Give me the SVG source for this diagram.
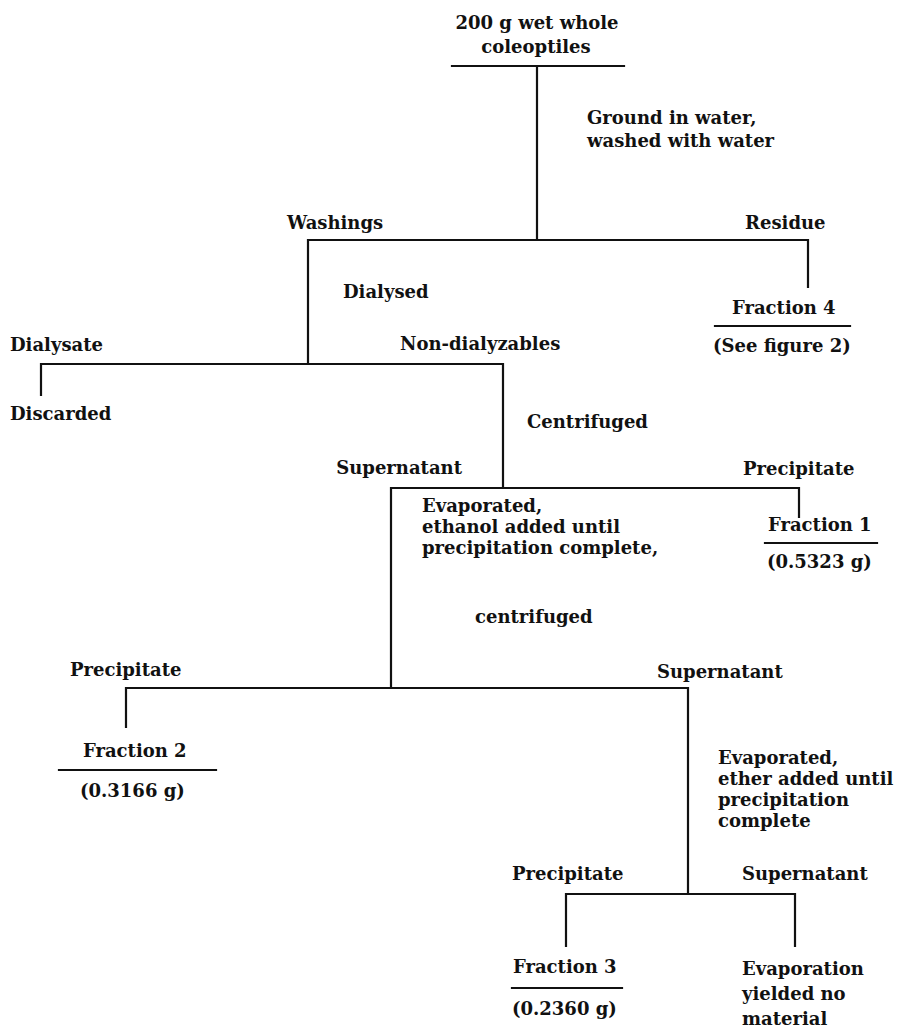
<svg xmlns="http://www.w3.org/2000/svg" width="897" height="1029" viewBox="0 0 897 1029">
<style>
.t{font-family:"DejaVu Serif","Liberation Serif",serif;font-size:18px;font-weight:bold;fill:#111}
.m{text-anchor:middle}
.e{text-anchor:end}
.ln{stroke:#111;stroke-width:2.2;fill:none;stroke-linecap:square}
</style>
<rect width="897" height="1029" fill="#fff"/>
<g id="connectors" class="ln">
<path d="M537 66V240M308 240H808M308 240V364M808 240V287"/>
<path d="M41 364H503M41 364V395M503 364V488"/>
<path d="M391 488H799M799 488V517M391 488V688"/>
<path d="M126 688H688M126 688V727M688 688V894"/>
<path d="M566 894H795M566 894V946M795 894V946"/>
</g>
<g id="start">
<text class="t m" x="537" y="29">200 g wet whole</text>
<text class="t m" x="536" y="53">coleoptiles</text>
<path class="ln" d="M452 66H624"/>
</g>
<g id="step-ground">
<text class="t" x="587" y="124">Ground in water,</text>
<text class="t" x="587" y="147">washed with water</text>
</g>
<g id="washings"><text class="t" x="287" y="229">Washings</text></g>
<g id="residue"><text class="t" x="745" y="229">Residue</text></g>
<g id="step-dialysed"><text class="t" x="343" y="298">Dialysed</text></g>
<g id="fraction4">
<text class="t" x="732" y="314">Fraction 4</text>
<path class="ln" d="M715 326H850"/>
<text class="t" x="713" y="352">(See figure 2)</text>
</g>
<g id="dialysate"><text class="t" x="10" y="351">Dialysate</text></g>
<g id="nondialyzables"><text class="t" x="400" y="350">Non-dialyzables</text></g>
<g id="discarded"><text class="t" x="10" y="420">Discarded</text></g>
<g id="step-centrifuged"><text class="t" x="527" y="428">Centrifuged</text></g>
<g id="supernatant1"><text class="t e" x="462" y="474">Supernatant</text></g>
<g id="precipitate1"><text class="t" x="743" y="475">Precipitate</text></g>
<g id="step-ethanol">
<text class="t" x="422" y="512">Evaporated,</text>
<text class="t" x="422" y="533">ethanol added until</text>
<text class="t" x="422" y="554">precipitation complete,</text>
<text class="t" x="475" y="623">centrifuged</text>
</g>
<g id="fraction1">
<text class="t" x="768" y="531">Fraction 1</text>
<path class="ln" d="M765 543H877"/>
<text class="t" x="767" y="568">(0.5323 g)</text>
</g>
<g id="precipitate2"><text class="t" x="70" y="676">Precipitate</text></g>
<g id="supernatant2"><text class="t" x="657" y="678">Supernatant</text></g>
<g id="fraction2">
<text class="t" x="83" y="757">Fraction 2</text>
<path class="ln" d="M59 770H216"/>
<text class="t" x="80" y="797">(0.3166 g)</text>
</g>
<g id="step-ether">
<text class="t" x="718" y="764">Evaporated,</text>
<text class="t" x="718" y="785">ether added until</text>
<text class="t" x="718" y="806">precipitation</text>
<text class="t" x="718" y="827">complete</text>
</g>
<g id="precipitate3"><text class="t" x="512" y="880">Precipitate</text></g>
<g id="supernatant3"><text class="t" x="742" y="880">Supernatant</text></g>
<g id="fraction3">
<text class="t" x="513" y="973">Fraction 3</text>
<path class="ln" d="M512 988H622"/>
<text class="t" x="512" y="1015">(0.2360 g)</text>
</g>
<g id="evaporation">
<text class="t" x="742" y="975">Evaporation</text>
<text class="t" x="742" y="1000">yielded no</text>
<text class="t" x="742" y="1025">material</text>
</g>
</svg>
